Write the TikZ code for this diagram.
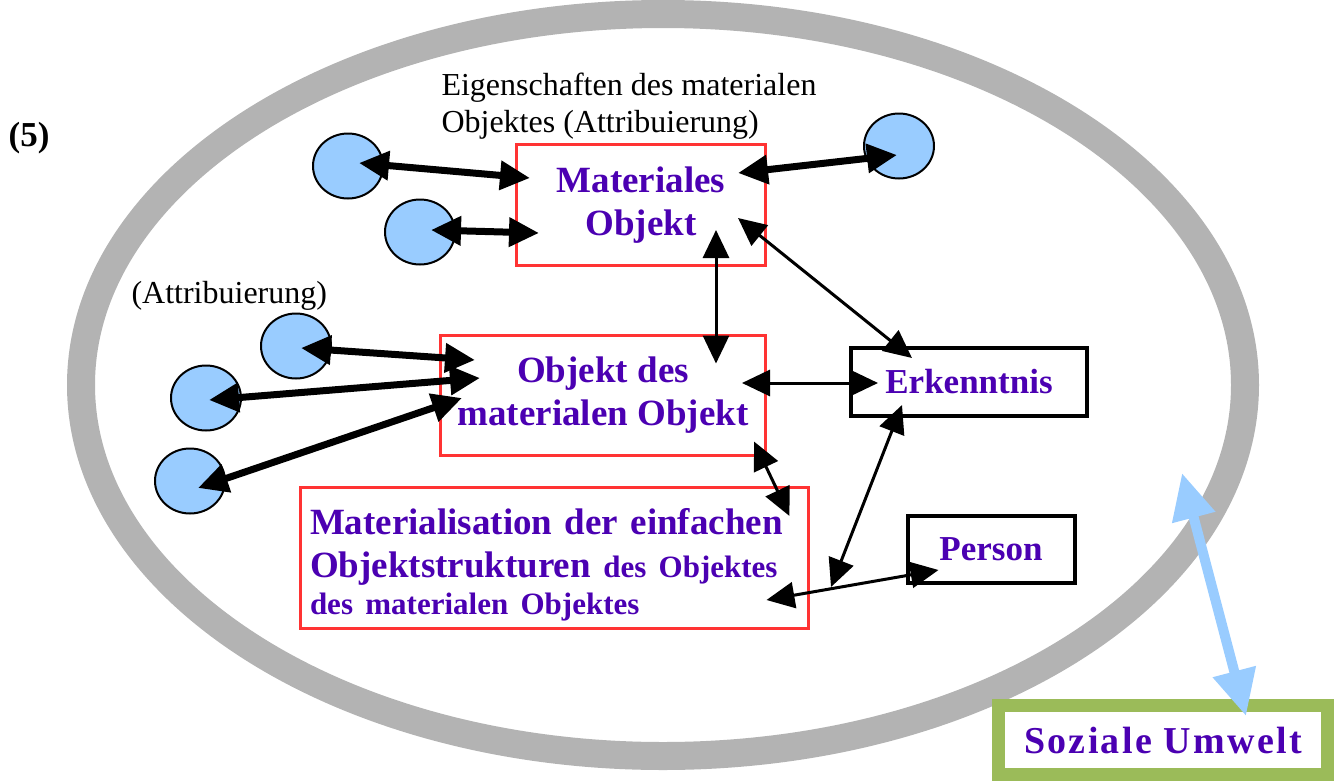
\documentclass[tikz,border=0pt]{standalone}
\usepackage{fontspec}
\setmainfont{Liberation Serif}
\newfontfamily\weitfont[LetterSpace=6]{Liberation Serif}
\usetikzlibrary{arrows.meta,shapes.geometric}
\definecolor{lila}{RGB}{75,0,178}
\definecolor{rotrand}{RGB}{255,51,51}
\definecolor{ringgrau}{RGB}{179,179,179}
\definecolor{hellblau}{RGB}{153,204,255}
\definecolor{gruenrand}{RGB}{155,187,89}
\tikzstyle{rotbox}=[rectangle, draw=rotrand, line width=3pt, fill=white, inner sep=0pt, text=lila, align=center, font=\bfseries\fontsize{37}{43}\selectfont]
\tikzstyle{schwarzbox}=[rectangle, draw=black, line width=4pt, fill=white, inner sep=0pt, text=lila, font=\bfseries\fontsize{35}{40}\selectfont]
\tikzstyle{kreis}=[ellipse, draw=black, line width=2pt, fill=hellblau, minimum width=70pt, minimum height=65pt, inner sep=0pt]
\tikzstyle{annot}=[align=left, anchor=west, font=\fontsize{32}{37}\selectfont]
\tikzstyle{dick}=[line width=7pt, {Triangle[length=30pt,width=28pt]}-{Triangle[length=30pt,width=28pt]}]
\tikzstyle{duenn}=[line width=3pt, {Triangle[length=28pt,width=26pt]}-{Triangle[length=28pt,width=26pt]}]
\begin{document}
\begin{tikzpicture}[x=1pt,y=-1pt]
	\useasboundingbox (0,0) rectangle (1339,782);

	% Umwelt-Ring
	\draw[ringgrau, line width=28pt] (663,385) ellipse [x radius=582, y radius=371];

	\node[font=\bfseries\fontsize{35}{40}\selectfont] (nr) at (29,138) {(5)};
	\node[annot] (eigen) at (438,106) {Eigenschaften des materialen\\Objektes (Attribuierung)};
	\node[annot] (attr) at (128,296) {(Attribuierung)};

	\node[rotbox, minimum width=249pt, minimum height=121pt] (mo) at (641,205) {Materiales\\Objekt};
	\node[rotbox, minimum width=325pt, minimum height=120pt] (oo) at (603,395) {Objekt des\\materialen Objekt};
	\node[rotbox, minimum width=508pt, minimum height=141pt, text width=488pt, align=left] (mat) at (554,558)
		{\rule{0pt}{40pt}Materialisation der einfachen\\Objektstrukturen {\fontsize{31}{39}\selectfont des Objektes}\\[-6pt]{\fontsize{31}{39}\selectfont des materialen Objektes}};
	\node[schwarzbox, minimum width=236pt, minimum height=68pt] (erk) at (969,382) {Erkenntnis};
	\node[schwarzbox, minimum width=167pt, minimum height=67pt] (person) at (991,549) {Person};
	\node[rectangle, draw=gruenrand, line width=13pt, fill=white, minimum width=329pt, minimum height=69pt, text=lila, font=\weitfont\bfseries\fontsize{38}{42}\selectfont] (umwelt) at (1163,740) {Soziale Umwelt};

	\node[kreis] (k1) at (348,166) {};
	\node[kreis] (k2) at (420,232) {};
	\node[kreis] (k3) at (899,146) {};
	\node[kreis] (k4) at (296,346) {};
	\node[kreis] (k5) at (206,398) {};
	\node[kreis] (k6) at (190,481) {};

	\coordinate (treff) at (831,587);
	\coordinate (aussen) at (1182,473);

	% Attribuierungen
	\draw[dick] ([shift={(11,-3)}]k1.center) -- ([shift={(15,-27)}]mo.west);
	\draw[dick] ([shift={(11,-2)}]k2.center) -- ([shift={(24,28)}]mo.west);
	\draw[dick] ([shift={(-29,-32)}]mo.east) -- ([shift={(-2,9)}]k3.center);
	\draw[dick] ([shift={(5,2)}]k4.center) -- ([shift={(36,-35)}]oo.west);
	\draw[dick] ([shift={(3,2)}]k5.center) -- ([shift={(41,-17)}]oo.west);
	\draw[dick] ([shift={(8,7)}]k6.center) -- ([shift={(23,3)}]oo.west);

	% Beziehungen
	\draw[duenn] ([shift={(75,-37)}]mo.south) -- ([shift={(113,30)}]oo.north);
	\draw[duenn] ([shift={(-29,13)}]mo.east) -- ([shift={(-57,12)}]erk.north);
	\draw[duenn] ([shift={(-25,-12)}]oo.east) -- ([shift={(29,1)}]erk.west);
	\draw[duenn] ([shift={(-13,-15)}]oo.south east) -- ([shift={(-20,30)}]mat.north east);
	\draw[duenn] ([shift={(-67,-13)}]erk.south) -- (treff);
	\draw[duenn] ([shift={(33,21)}]person.west) -- ([shift={(-43,42)}]mat.east);

	\draw[hellblau, line width=10pt, {Triangle[length=46pt,width=42pt]}-{Triangle[length=46pt,width=42pt]}] (aussen) -- ([shift={(83,17)}]umwelt.north);

\end{tikzpicture}
\end{document}
